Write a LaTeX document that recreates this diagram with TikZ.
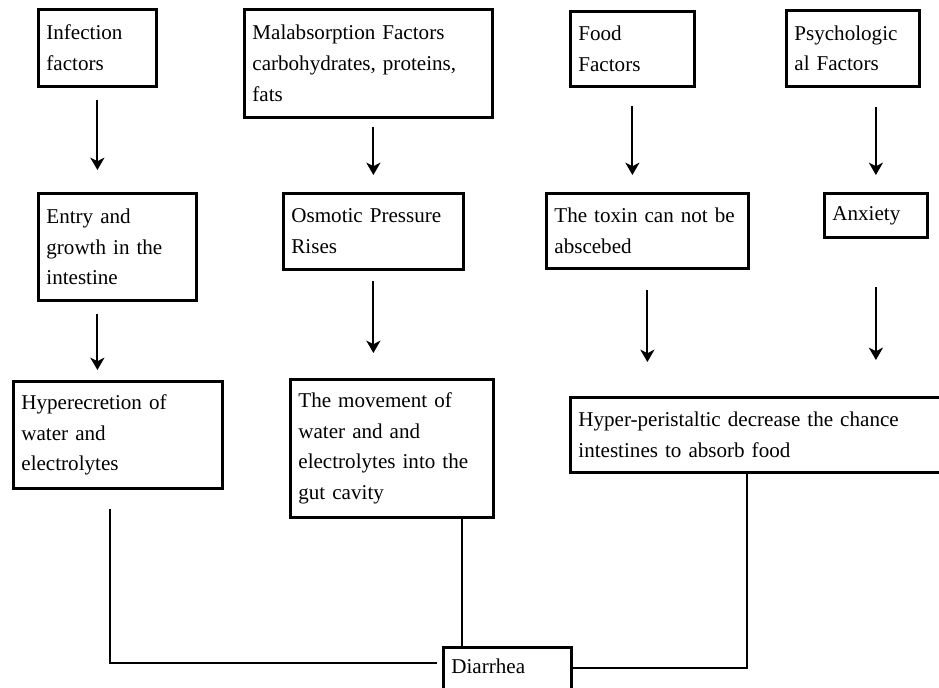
\documentclass[tikz,border=0pt]{standalone}
\usepackage{fontspec}
\setmainfont{Liberation Serif}
\usetikzlibrary{arrows.meta,calc}

\begin{document}
\begin{tikzpicture}[x=0.02cm, y=-0.02cm,
    box/.style={draw, line width=1.6pt, anchor=north west, align=left,
      inner xsep=0.16cm, inner ysep=0.1cm, font=\fontsize{12pt}{17.5pt}\selectfont},
    arr/.style={line width=1.2pt, -{Stealth[length=7pt,width=8pt,inset=2pt]}},
    link/.style={line width=1.2pt}]
            \clip (0, 0) rectangle (939, 688);

            % Top row
            \node[box, text width=2.04cm, minimum height=1.54cm] (infect) at (37, 8) {Infection\\factors};
            \node[box, text width=4.64cm, minimum height=2.16cm] (malabs) at (243, 8) {Malabsorption Factors\\carbohydrates, proteins,\\fats};
            \node[box, text width=2.16cm, minimum height=1.5cm] (food) at (569, 10) {Food\\Factors};
            \node[box, text width=2.34cm, minimum height=1.52cm] (psych) at (785, 9) {Psychologic\\al Factors};

            % Middle row
            \node[box, text width=2.84cm, minimum height=2.14cm] (entry) at (37, 192) {Entry and\\growth in the\\intestine};
            \node[box, text width=3.28cm, minimum height=1.52cm] (osm) at (282, 192) {Osmotic Pressure\\Rises};
            \node[box, text width=3.72cm, minimum height=1.5cm] (toxin) at (545, 192) {The toxin can not be\\abscebed};
            \node[box, text width=1.74cm, minimum height=0.88cm] (anx) at (823, 192) {Anxiety};

            % Bottom row
            \node[box, text width=3.86cm, minimum height=2.14cm] (hyperec) at (12, 380) {Hyperecretion of\\water and\\electrolytes};
            \node[box, text width=3.74cm, minimum height=2.76cm] (movement) at (289, 378) {The movement of\\water and and\\electrolytes into the\\gut cavity};
            \node[box, text width=7.68cm, minimum height=1.5cm] (hyperper) at (569, 396) {Hyper-peristaltic decrease the chance\\intestines to absorb food};
            \node[box, text width=2.24cm, text height=0.42cm, text depth=0.7cm] (diar) at (442, 646) {Diarrhea};

            % Arrows between rows
            \draw[arr, shorten <=0.24cm, shorten >=0.44cm] (infect.south) -- (infect.south |- entry.north);
            \draw[arr, shorten <=0.16cm, shorten >=0.34cm] (malabs.south -| osm.north) -- (osm.north);
            \draw[arr, shorten <=0.36cm, shorten >=0.34cm] (food.south) -- (food.south |- toxin.north);
            \draw[arr, shorten <=0.38cm, shorten >=0.34cm] (psych.south -| anx.north) -- (anx.north);
            \draw[arr, shorten <=0.24cm, shorten >=0.2cm] (entry.south -| infect.south) -- (hyperec.north -| infect.south);
            \draw[arr, shorten <=0.2cm, shorten >=0.5cm] (osm.south) -- (osm.south |- movement.north);
            \draw[arr, shorten <=0.4cm, shorten >=0.68cm] (toxin.south) -- (toxin.south |- hyperper.north);
            \draw[arr, shorten <=0.96cm, shorten >=0.72cm] (anx.south) -- (anx.south |- hyperper.north);

            % Lines into Diarrhea
            \draw[link] ($(hyperec.south) + (-7.5, 19)$) |- ($(diar.north west) + (-5, 17)$);
            \draw[link] ($(diar.north west) + (20, 0)$) -- ($(movement.south west) + (173, 0)$);
            \draw[link] ($(diar.north east) + (0, 22)$) -| ($(hyperper.south west) + (178, 0)$);
        \end{tikzpicture}
\end{document}
